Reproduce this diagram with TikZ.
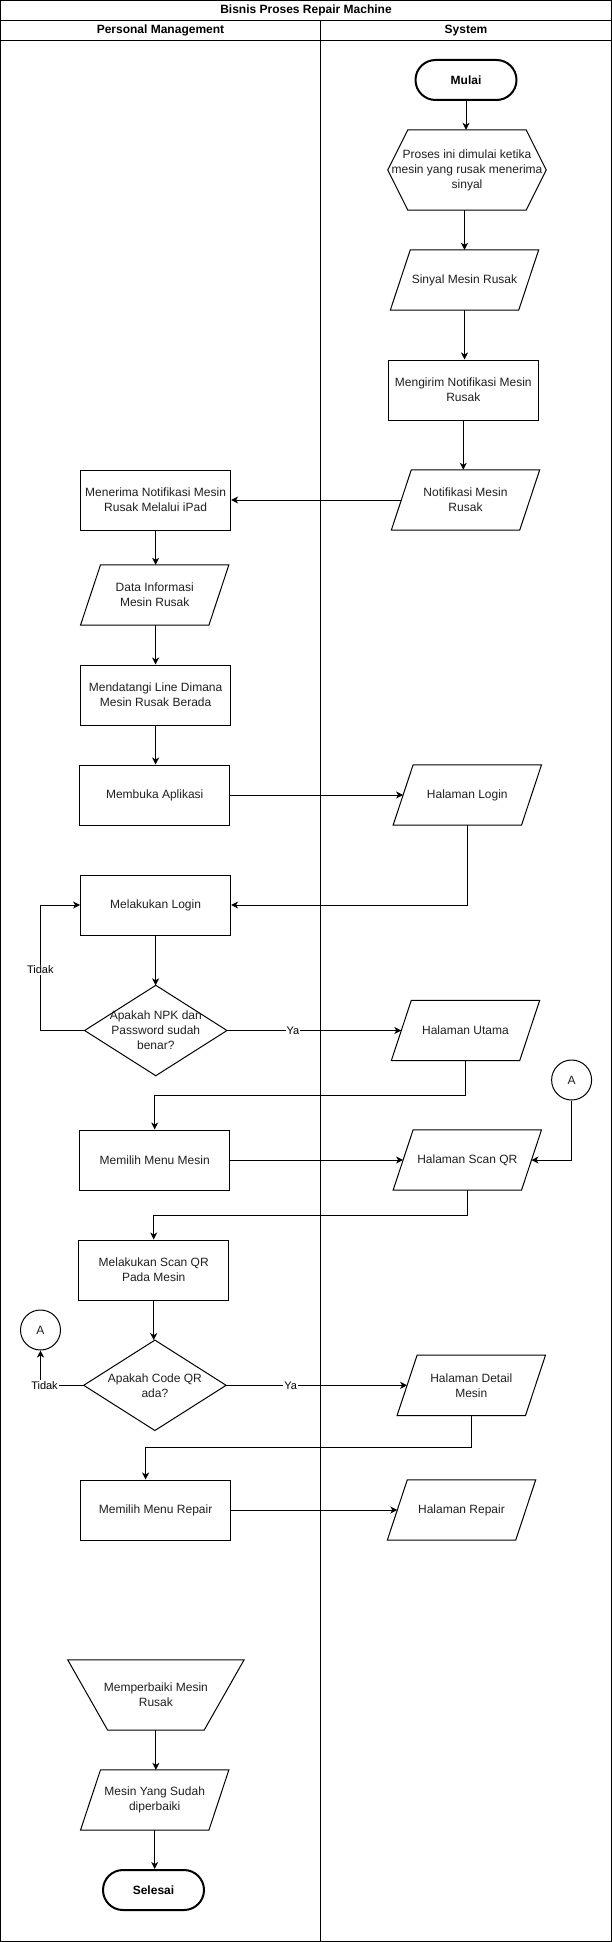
\documentclass[tikz,border=0pt]{standalone}
\usepackage{fontspec}
\setmainfont{Liberation Sans}
\usetikzlibrary{arrows.meta}
\newcommand\nfont{\fontsize{12pt}{15pt}\selectfont}
\newcommand\lfont{\fontsize{11pt}{13pt}\selectfont}
\begin{document}
\begin{tikzpicture}[x=1pt,y=-1pt,
  base/.style={font=\nfont, align=center, inner sep=0pt, text=black!88},
  box/.style={base, draw, line width=1pt, minimum width=150pt, minimum height=60pt},
  para/.style={base, minimum width=148pt, minimum height=60pt,
    append after command={\pgfextra{\draw[line width=1pt]
      ([xshift=20pt]\tikzlastnode.north west) -- (\tikzlastnode.north east)
      -- ([xshift=-20pt]\tikzlastnode.south east) -- (\tikzlastnode.south west) -- cycle;}}},
  hexa/.style={base, minimum width=158pt, minimum height=80pt,
    append after command={\pgfextra{\draw[line width=1pt]
      ([xshift=20pt]\tikzlastnode.north west) -- ([xshift=-20pt]\tikzlastnode.north east)
      -- (\tikzlastnode.east) -- ([xshift=-20pt]\tikzlastnode.south east)
      -- ([xshift=20pt]\tikzlastnode.south west) -- (\tikzlastnode.west) -- cycle;}}},
  manop/.style={base, minimum width=176pt, minimum height=70pt,
    append after command={\pgfextra{\draw[line width=1pt]
      (\tikzlastnode.north west) -- (\tikzlastnode.north east)
      -- ([xshift=-40pt]\tikzlastnode.south east) -- ([xshift=40pt]\tikzlastnode.south west) -- cycle;}}},
  dia/.style={base, minimum width=142pt, minimum height=90pt,
    append after command={\pgfextra{\draw[line width=1pt]
      (\tikzlastnode.north) -- (\tikzlastnode.east) -- (\tikzlastnode.south) -- (\tikzlastnode.west) -- cycle;}}},
  term/.style={base, text=black, draw, line width=2pt, rounded corners=20pt, minimum width=101pt, minimum height=40pt},
  conn/.style={base, circle, draw, line width=1pt, minimum size=40pt},
  arr/.style={line width=1pt, -{Stealth[length=7pt,width=7pt,inset=2pt]}},
  lbl/.style={font=\lfont, fill=white, inner sep=1pt, text=black},
  hdr/.style={font=\nfont\bfseries, text=black, inner sep=0pt}
]
\useasboundingbox (0,0) rectangle (612,1942);
% swimlane frame
\draw[line width=1pt] (0.5,0.5) rectangle (611.5,1941.5);
\draw[line width=1pt] (0.5,20.7) -- (611.5,20.7);
\draw[line width=1pt] (0.5,40.7) -- (611.5,40.7);
\draw[line width=1pt] (320.7,20.7) -- (320.7,1941.5);
\node[hdr] (title) at (306,10.5) {Bisnis Proses Repair Machine};
\node[hdr] (lane1) at (160.5,30.7) {Personal Management};
\node[hdr] (lane2) at (466,30.7) {System};

% nodes
\node[term] (mulai) at (466,80) {\textbf{Mulai}};
\node[hexa] (hex) at (467,170) {Proses ini dimulai ketika\\mesin yang rusak menerima\\sinyal};
\node[para] (sinyal) at (464.5,280) {Sinyal Mesin Rusak};
\node[box] (kirim) at (463.3,390) {Mengirim Notifikasi Mesin\\Rusak};
\node[para] (notif) at (465.5,500) {Notifikasi Mesin\\Rusak};
\node[box] (terima) at (155.6,500) {Menerima Notifikasi Mesin\\Rusak Melalui iPad};
\node[para] (data) at (154.7,595) {Data Informasi\\Mesin Rusak};
\node[box] (datang) at (155.6,695) {Mendatangi Line Dimana\\Mesin Rusak Berada};
\node[box] (buka) at (154.7,795) {Membuka Aplikasi};
\node[para] (login) at (467.3,795) {Halaman Login};
\node[box] (mlogin) at (155.6,905) {Melakukan Login};
\node[dia] (dnpk) at (155.8,1030.5) {Apakah NPK dan\\Password sudah\\benar?};
\node[para] (utama) at (465.5,1030.5) {Halaman Utama};
\node[box] (mmesin) at (154.7,1160) {Memilih Menu Mesin};
\node[para] (scan) at (467.3,1160) {Halaman Scan QR};
\node[conn] (a1) at (571.6,1080) {A};
\node[box] (mscan) at (153.7,1270) {Melakukan Scan QR\\Pada Mesin};
\node[dia] (dqr) at (154.9,1385.3) {Apakah Code QR\\ada?};
\node[conn] (a2) at (40.5,1330) {A};
\node[para] (detail) at (471.3,1385.3) {Halaman Detail\\Mesin};
\node[box] (mrepair) at (155.6,1510) {Memilih Menu Repair};
\node[para] (hrepair) at (461.5,1510) {Halaman Repair};
\node[manop] (perbaiki) at (155.9,1695) {Memperbaiki Mesin\\Rusak};
\node[para] (sudah) at (154.7,1800) {Mesin Yang Sudah\\diperbaiki};
\node[term] (selesai) at (153.5,1890) {\textbf{Selesai}};

% connectors
\draw[arr] (mulai.south) -- (mulai.south |- hex.north);
\draw[arr] (hex.south -| sinyal.north) -- (sinyal.north);
\draw[arr] (sinyal.south) -- (sinyal.south |- kirim.north);
\draw[arr] (kirim.south) -- (kirim.south |- notif.north);
\draw[arr] ([xshift=10pt]notif.west) -- (terima.east);
\draw[arr] (terima.south) -- (terima.south |- data.north);
\draw[arr] (data.south -| datang.north) -- (datang.north);
\draw[arr] (datang.south) -- (datang.south |- buka.north);
\draw[arr] (buka.east) -- ([xshift=10pt]login.west);
\draw[arr] (login.south) |- (mlogin.east);
\draw[arr] (mlogin.south) -- (mlogin.south |- dnpk.north);
\coordinate (t1) at (40.3,1030.5);
\draw[arr] (dnpk.west) -- (t1) |- (mlogin.west);
\node[lbl] (tidak1) at (40.3,970) {Tidak};
\draw[arr] (dnpk.east) -- ([xshift=10pt]utama.west);
\node[lbl] (ya1) at (293,1030.5) {Ya};
\draw[arr] (utama.south) -- ++(0,34.8) -| (mmesin.north);
\draw[arr] (mmesin.east) -- ([xshift=10pt]scan.west);
\draw[arr] (a1.south) |- ([xshift=-10pt]scan.east);
\draw[arr] (scan.south) -- ++(0,25.3) -| (mscan.north);
\draw[arr] (mscan.south) -- (mscan.south |- dqr.north);
\coordinate (t2) at (40.5,1385.3);
\draw[arr] (dqr.west) -- (t2) -- (a2.south);
\node[lbl] (tidak2) at (44.5,1385.3) {Tidak};
\draw[arr] (dqr.east) -- ([xshift=10pt]detail.west);
\node[lbl] (ya2) at (290.6,1385.3) {Ya};
\draw[arr] (detail.south) -- ++(0,32.4) -| ([xshift=-10pt]mrepair.north);
\draw[arr] (mrepair.east) -- ([xshift=10pt]hrepair.west);
\draw[arr] (perbaiki.south) -- (perbaiki.south |- sudah.north);
\draw[arr] (sudah.south) -- (sudah.south |- selesai.north);
\end{tikzpicture}
\end{document}
